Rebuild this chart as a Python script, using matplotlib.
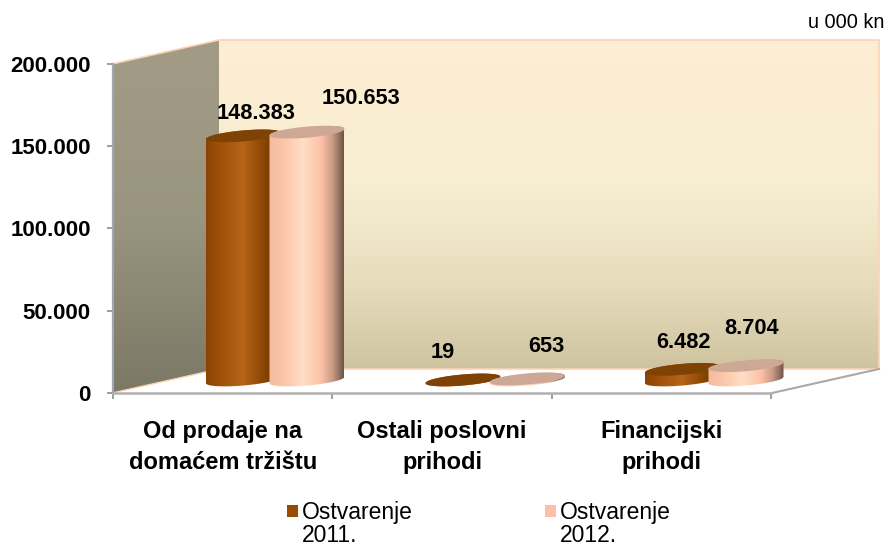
import numpy as np
import matplotlib
matplotlib.use('Agg')
import matplotlib.pyplot as plt
from matplotlib.colors import LinearSegmentedColormap
from matplotlib.patches import Polygon, Rectangle

plt.rcParams['font.family'] = ['Liberation Sans', 'DejaVu Sans']

categories = ['Od prodaje na\ndomaćem tržištu', 'Ostali poslovni\nprihodi', 'Financijski\nprihodi']
series_names = ['Ostvarenje\n2011.', 'Ostvarenje\n2012.']
series_colors = ['#994c00', '#fcc0a6']
values_2011 = [148383, 19, 6482]
values_2012 = [150653, 653, 8704]
labels_2011 = ['148.383', '19', '6.482']
labels_2012 = ['150.653', '653', '8.704']
y_ticks = [0, 50000, 100000, 150000, 200000]
y_tick_labels = ['0', '50.000', '100.000', '150.000', '200.000']

W, H = 884, 545
# plot box in pixels
x0, x1 = 113, 771
y_base, y_top = 393, 64
px_x = 3 / (x1 - x0)
px_y = 200000 / (y_base - y_top)

cmap_2011 = LinearSegmentedColormap.from_list('c11', [(0, '#8a4400'), (0.2, '#a0520c'), (0.5, '#b66418'),
                                                      (0.72, '#934b06'), (0.85, '#7d3f00'), (1, '#7a3d00')])
cmap_2012 = LinearSegmentedColormap.from_list('c12', [(0, '#f6bb9e'), (0.2, '#fcc6aa'), (0.45, '#ffdec5'),
                                                      (0.7, '#fcc1a6'), (0.85, '#c89b84'), (1, '#6e5448')])
wall_cmap = LinearSegmentedColormap.from_list('wall', [(0, '#feeed3'), (0.45, '#f7edd1'), (0.75, '#e6dcbc'),
                                                       (1, '#cfc39f')])
side_cmap = LinearSegmentedColormap.from_list('side', ['#a29c87', '#9a9580', '#7b7865'])

fig = plt.figure(figsize=(W / 100, H / 100), dpi=100)

# background: walls and floor edge, in pixel units
bg = fig.add_axes([0, 0, 1, 1])
bg.axis('off')
grad = np.linspace(0, 1, 256).reshape(-1, 1)
bg.imshow(grad, cmap=wall_cmap, extent=[219, 879, 369, 40], aspect='auto')
im = bg.imshow(grad, cmap=side_cmap, extent=[112, 219, 393, 40], aspect='auto')
im.set_clip_path(Polygon([(112, 64), (219, 40), (219, 369), (112, 393)], transform=bg.transData))
bg.plot([112, 219, 879, 879, 219], [64, 40, 40, 369, 369], color='#fbd3b6', lw=1.2)
bg.plot([112, 219], [393, 369], color='#fbd3b6', lw=1)
bg.plot([112, 112], [64, 393], color='#fbd3b6', lw=1)
bg.plot([772, 879], [393, 369], color='#a9a9a9', lw=1.5)
bg.set_xlim(0, W)
bg.set_ylim(H, 0)

ax = fig.add_axes([x0 / W, 1 - y_base / H, (x1 - x0) / W, (y_base - y_top) / H])
ax.patch.set_alpha(0)


def cylinder(cx_px, value, cmap, top_color):
    # cylinder standing on the floor, sized from px offsets but placed in data units
    a = 37.5 * px_x
    b = 5.5 * px_y
    slant = 3.2 * px_y
    cx = (cx_px - x0) * px_x
    base = 13 * px_y
    top = base + value
    t = np.linspace(0, np.pi, 60)
    xs = np.cos(t)
    front = base - b * np.sin(t) + slant * xs
    rim = top - b * np.sin(t) + slant * xs
    back = top + b * np.sin(t) + slant * xs
    body = np.column_stack([np.r_[cx + a * xs, cx + a * xs[::-1]], np.r_[front, back[::-1]]])
    im = ax.imshow(np.linspace(0, 1, 256).reshape(1, -1), cmap=cmap, aspect='auto',
                   extent=[cx - a, cx + a, base - 2 * b, top + 2 * b], zorder=3)
    im.set_clip_path(Polygon(body, transform=ax.transData))
    im.set_clip_box(fig.bbox)
    cap = np.column_stack([np.r_[cx + a * xs, cx + a * xs[::-1]], np.r_[rim, back[::-1]]])
    ax.add_patch(Polygon(cap, closed=True, fc=top_color, ec='none', zorder=3, clip_on=False))


centers_2011 = [243.5, 463, 682.5]
centers_2012 = [307, 527.5, 746]
for c, v in zip(centers_2011, values_2011):
    cylinder(c, v, cmap_2011, '#7f4205')
for c, v in zip(centers_2012, values_2012):
    cylinder(c, v, cmap_2012, '#cda894')

# value labels, hand placed in the original
label_x = [256, 443, 684, 361, 546, 752]
label_y = [113.5, 352, 343, 99, 347, 329]
for lx, ly, s in zip(label_x, label_y, labels_2011 + labels_2012):
    ax.text((lx - x0) * px_x, (y_base - ly) * px_y, s, ha='center', va='center',
            fontsize=15.7, fontweight='bold', color='black', zorder=5)

ax.set_xlim(0, 3)
ax.set_ylim(0, 200000)
ax.set_yticks(y_ticks)
ax.set_yticklabels(y_tick_labels, fontsize=16, fontweight='bold')
ax.set_xticks([0, 1, 2, 3])
ax.set_xticklabels([])
ax.set_xticks([0.5, 1.5, 2.5], minor=True)
ax.set_xticklabels(categories, minor=True, fontsize=17, fontweight='bold', linespacing=1.43)
ax.tick_params(axis='x', which='minor', length=0, pad=19.5)
ax.tick_params(axis='x', which='major', length=4, width=1.2, color='#8c8c8c')
ax.tick_params(axis='y', length=4, width=1.2, color='#8c8c8c', pad=12)
for side in ['top', 'right']:
    ax.spines[side].set_visible(False)
ax.spines['left'].set_color('#9fa8b2')
ax.spines['bottom'].set_color('#b0b0b0')
ax.spines['left'].set_linewidth(1.5)
ax.spines['bottom'].set_linewidth(1.8)

# legend by hand: the swatch sits on the first line of the two-line label
swatch_x = [287, 545]
for sx, name, col in zip(swatch_x, series_names, series_colors):
    fig.add_artist(Rectangle((sx / W, 1 - 517 / H), 11 / W, 12 / H, transform=fig.transFigure,
                             fc=col, ec='none'))
    fig.text((sx + 15) / W, 1 - 501 / H, name, ha='left', va='top', fontsize=16.5, linespacing=0.98)

fig.text(884 / W, 1 - 23 / H, 'u 000 kn', ha='right', va='center', fontsize=14.4)

fig.savefig('out.png', dpi=100)
